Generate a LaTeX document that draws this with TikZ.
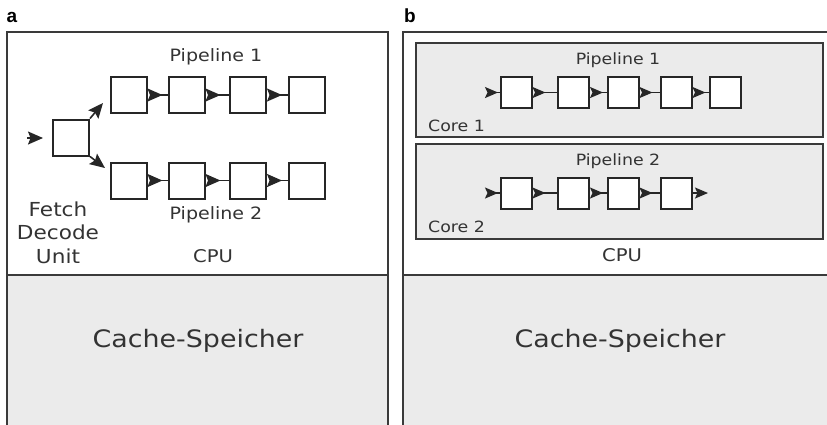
\documentclass[tikz,border=0pt]{standalone}
\usepackage{fontspec}
\setmainfont{DejaVu Sans}[FakeStretch=1.12]
\newfontfamily\panelfont{Liberation Sans}
\usetikzlibrary{arrows.meta}
\definecolor{framegray}{HTML}{3A3A3A}
\definecolor{cachegray}{HTML}{EBEBEB}
\definecolor{textgray}{HTML}{333333}

\begin{document}
\begin{tikzpicture}[x=1pt, y=-1pt,
    stage/.style={draw=black!85, line width=2pt, fill=white, minimum size=36pt, inner sep=0pt},
    smallstage/.style={stage, minimum size=31pt},
    link/.style={{Stealth[reversed, length=15pt, width=13pt, inset=2.5pt]}-, line width=1.6pt, black!85},
    smalllink/.style={{Stealth[reversed, length=13pt, width=11pt, inset=2.5pt]}-, line width=1.5pt, black!85},
    tip/.style={-{Stealth[length=15pt, width=13pt, inset=2.5pt]}, line width=1.6pt, black!85},
    smalltip/.style={-{Stealth[length=13pt, width=11pt, inset=2.5pt]}, line width=1.5pt, black!85},
    frame/.style={framegray, line width=2pt},
    tag/.style={text=textgray, inner sep=0pt, anchor=base},
  ]
  \useasboundingbox (0,0) rectangle (827,424);

  % Cache areas and cores
  \fill[cachegray] (7,275) rectangle (388,430);
  \fill[cachegray] (403,275) rectangle (840,430);
  \draw[frame, fill=cachegray] (416,43) rectangle (823,137);
  \draw[frame, fill=cachegray] (416,144) rectangle (823,239);

  % Frames
  \draw[frame] (7,430) -- (7,32) -- (388,32) -- (388,430);
  \draw[frame] (7,275) -- (388,275);
  \draw[frame] (403,430) -- (403,32) -- (840,32);
  \draw[frame] (403,275) -- (840,275);

  % Panel labels
  \node[tag, text=black, font=\panelfont\bfseries\fontsize{19}{19}\selectfont] (lbl-a) at (12,22) {a};
  \node[tag, text=black, font=\panelfont\bfseries\fontsize{19}{19}\selectfont] (lbl-b) at (410,22) {b};

  % Panel a: fetch decode unit and two pipelines
  \node[stage] (fdu) at (71,137.5) {};
  \foreach \x [count=\i] in {128.5,186.5,248,306.5} {
    \node[stage] (a1-\i) at (\x,95) {};
    \node[stage] (a2-\i) at (\x,180.5) {};
  }
  \foreach \i/\j in {1/2,2/3,3/4} {
    \draw[link] (a1-\i) -- (a1-\j);
    \draw[link] (a2-\i) -- (a2-\j);
  }
  \coordinate (fdu-in) at (27,138);
  \coordinate (fdu-in-end) at (43,138);
  \coordinate (fdu-up) at (103,103);
  \coordinate (fdu-down) at (105,168);
  \draw[tip] (fdu-in) -- (fdu-in-end);
  \draw[tip] (fdu.north east) -- (fdu-up);
  \draw[tip] (fdu.south east) -- (fdu-down);

  % Panel b: two cores with one pipeline each
  \foreach \x [count=\i] in {516,573.5,623,676,725.5}
    \node[smallstage] (b1-\i) at (\x,92.5) {};
  \foreach \x [count=\i] in {516,573.5,623,676}
    \node[smallstage] (b2-\i) at (\x,193) {};
  \foreach \i/\j in {1/2,2/3,3/4,4/5}
    \draw[smalllink] (b1-\i) -- (b1-\j);
  \foreach \i/\j in {1/2,2/3,3/4}
    \draw[smalllink] (b2-\i) -- (b2-\j);
  \coordinate (b1-in) at (485,92.5);
  \coordinate (b2-in) at (485,193);
  \coordinate (b2-out) at (708,193);
  \draw[smalllink] (b1-in) -- (b1-1);
  \draw[smalllink] (b2-in) -- (b2-1);
  \draw[smalltip] (b2-4) -- (b2-out);

  % Texts
  \node[tag, font=\fontsize{17}{17}\selectfont] (pipe-a1) at (216,61) {Pipeline 1};
  \node[tag, font=\fontsize{17}{17}\selectfont] (pipe-a2) at (216,219) {Pipeline 2};
  \node[tag, align=center, font=\fontsize{19.3}{23.5}\selectfont] (fdu-text) at (58,263) {Fetch\\Decode\\Unit};
  \node[tag, font=\fontsize{17.5}{17.5}\selectfont] (cpu-a) at (213,262) {CPU};
  \node[tag, font=\fontsize{15.5}{15.5}\selectfont] (pipe-b1) at (618,64) {Pipeline 1};
  \node[tag, font=\fontsize{15.5}{15.5}\selectfont] (pipe-b2) at (618,165) {Pipeline 2};
  \node[tag, anchor=base west, font=\fontsize{15.5}{15.5}\selectfont] (core-1) at (428,131) {Core 1};
  \node[tag, anchor=base west, font=\fontsize{15.5}{15.5}\selectfont] (core-2) at (428,232) {Core 2};
  \node[tag, font=\fontsize{17.5}{17.5}\selectfont] (cpu-b) at (622,261) {CPU};
  \node[tag, font=\fontsize{24}{24}\selectfont] (cache-a) at (198,347) {Cache-Speicher};
  \node[tag, font=\fontsize{24}{24}\selectfont] (cache-b) at (620,347) {Cache-Speicher};
\end{tikzpicture}
\end{document}
